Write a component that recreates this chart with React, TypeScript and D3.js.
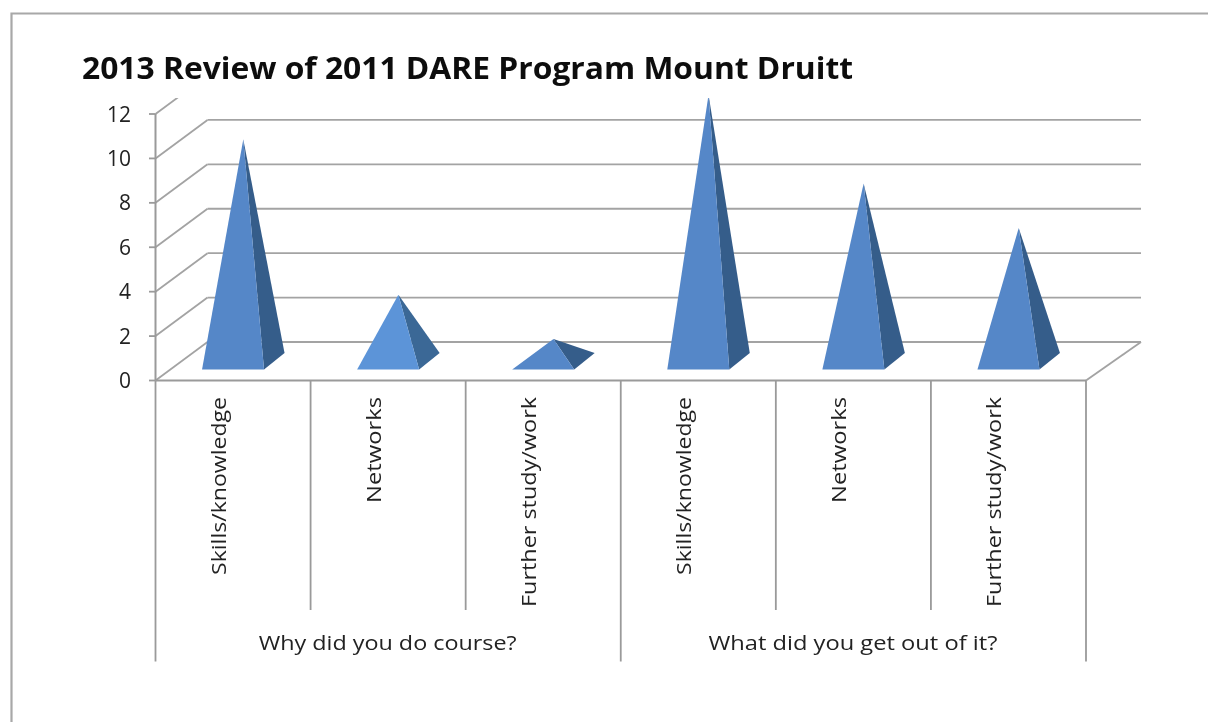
import React from "react";
import * as d3 from "d3";

const categories = ["Skills/knowledge", "Networks", "Further study/work", "Skills/knowledge", "Networks", "Further study/work"];
const values = [10, 3, 1, 12, 8, 6];
const groups = ["Why did you do course?", "What did you get out of it?"];
const yTicks = [0, 2, 4, 6, 8, 10, 12];
const labelLengths = [178, 106, 210, 178, 106, 210];

const FONT = "'Open Sans', 'Noto Sans', sans-serif";
const GRID = "#a3a3a3";
const AXIS = "#9a9a9a";
const FRONT = "#5587c8";
const SIDE = "#365d8a";
const FRONT_LIGHT = "#5c94d8";
const SIDE_LIGHT = "#3a6796";

export default function App() {
  const x = d3.scaleBand<number>().domain(d3.range(categories.length)).range([155.5, 1086]).padding(0);
  const y = d3.scaleLinear().domain([0, 12]).range([380.5, 114]);
  const dx = 52, dy = 38.5;
  const w = x.bandwidth();
  const pad = (w - 62) / 2;
  const baseY = 369.5;
  const pdx = 20.5, pdy = 16.5;
  const unit = y(0) - y(1);

  return (
    <div style={{ position: "absolute", left: 0, top: 0 }}>
      <svg width={1208} height={722} style={{ display: "block", background: "#fff" }}>
        <defs>
          <clipPath id="plot"><rect x={0} y={98} width={1208} height={624} /></clipPath>
          <filter id="soft" x="-5%" y="-5%" width="110%" height="110%"><feGaussianBlur stdDeviation={0.45} /></filter>
        </defs>
        <path d="M1208 13.5 H11.5 V722" fill="none" stroke="#a8a8a8" strokeWidth={2.2} />
        <g filter="url(#soft)">
          <text x={82} y={79} fontFamily={FONT} fontWeight={700} fontSize={31} fill="#111" textLength={771} lengthAdjust="spacingAndGlyphs">
            2013 Review of 2011 DARE Program Mount Druitt
          </text>
          <g clipPath="url(#plot)">
            {yTicks.map((t) => (
              <g key={t} stroke={GRID} fill="none" strokeWidth={1.8}>
                {t < 12 && <line x1={155.5 + dx} x2={1141} y1={y(t) - dy} y2={y(t) - dy} />}
                <line x1={155.5} y1={y(t)} x2={155.5 + dx} y2={y(t) - dy} />
              </g>
            ))}
            <line x1={1086} y1={y(0)} x2={1141} y2={y(0) - dy} stroke={GRID} strokeWidth={1.8} />
            <line x1={155.5} x2={1086} y1={y(0)} y2={y(0)} stroke={AXIS} strokeWidth={2} />
            <line x1={155.5} x2={155.5} y1={y(12)} y2={y(0)} stroke={AXIS} strokeWidth={2} />
            {yTicks.map((t) => (
              <line key={t} x1={149} x2={155.5} y1={y(t)} y2={y(t)} stroke={AXIS} strokeWidth={1.8} />
            ))}
            {values.map((v, i) => {
              const l = x(i)! + pad;
              const r = l + 62;
              const ax = (l + r) / 2 + pdx / 2;
              const ay = baseY - pdy / 2 - v * unit;
              return (
                <g key={i}>
                  <path d={`M${r} ${baseY} L${r + pdx} ${baseY - pdy} L${ax} ${ay} Z`} fill={i === 1 ? SIDE_LIGHT : SIDE} />
                  <path d={`M${l} ${baseY} L${r} ${baseY} L${ax} ${ay} Z`} fill={i === 1 ? FRONT_LIGHT : FRONT} />
                </g>
              );
            })}
          </g>
          {yTicks.map((t) => (
            <text key={t} x={131} y={y(t) + 7.5} textAnchor="end" fontFamily={FONT} fontSize={21} fill="#222">{t}</text>
          ))}
          {d3.range(categories.length + 1).map((i) => {
            const px = i === categories.length ? 1086 : x(i)!;
            return <line key={i} x1={px} x2={px} y1={y(0)} y2={i % 3 === 0 ? 661.5 : 610} stroke={AXIS} strokeWidth={1.8} />;
          })}
          {categories.map((c, i) => {
            const cx = x(i)! + w / 2 - 14;
            const top = 397;
            return (
              <text
                key={i}
                transform={`translate(${cx + 7},${top}) rotate(-90)`}
                textAnchor="end"
                fontFamily={FONT}
                fontSize={20}
                fill="#222"
                textLength={labelLengths[i]}
                lengthAdjust="spacingAndGlyphs"
              >
                {c}
              </text>
            );
          })}
          {groups.map((g, i) => (
            <text key={g} x={x(i * 3)! + (3 * w) / 2 - 0.5} y={650} textAnchor="middle" fontFamily={FONT} fontSize={20} fill="#222" textLength={i === 0 ? 258 : 289} lengthAdjust="spacingAndGlyphs">
              {g}
            </text>
          ))}
        </g>
      </svg>
    </div>
  );
}
